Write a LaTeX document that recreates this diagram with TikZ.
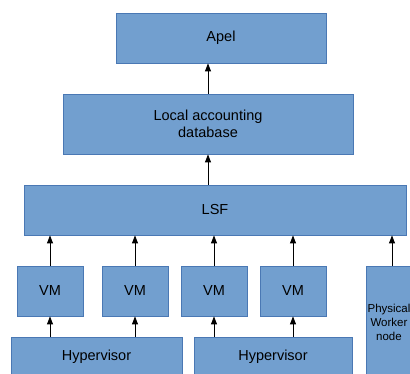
\documentclass[tikz,border=0pt]{standalone}
\usepackage{fontspec}
\setmainfont{Liberation Sans}
\usepackage{xcolor}
\usepackage{tikz}
\usetikzlibrary{arrows.meta,positioning}

\definecolor{boxfill}{HTML}{729FCF}
\definecolor{boxline}{HTML}{4A78B4}

\begin{document}
\begin{tikzpicture}[
    x=1pt, y=-1pt,
    box/.style={draw=boxline, fill=boxfill, line width=0.8pt, align=center, inner sep=0pt, font=\fontsize{14.5}{16.5}\selectfont},
    vm/.style={box, minimum width=66pt, minimum height=50pt},
    hyp/.style={box, minimum height=40pt},
    arr/.style={-{Triangle[width=6pt,length=8pt]}, line width=0.9pt}
]
\useasboundingbox (0,0) rectangle (410,374);
\clip (0,0) rectangle (410,374);
\fill[white] (0,0) rectangle (410,374);

\node[box, minimum width=210pt, minimum height=50pt] (apel) at (221,38) {Apel};
\node[box, minimum width=290pt, minimum height=60pt] (lad) at (208,124) {Local accounting\\database};
\node[box, minimum width=382pt, minimum height=50pt] (lsf) at (215,210) {LSF};
\node[vm] (vm1) at (50,291) {VM};
\node[vm] (vm2) at (135,291) {VM};
\node[vm] (vm3) at (214,291) {VM};
\node[vm] (vm4) at (293,291) {VM};
\node[box, minimum width=46pt, minimum height=112pt, font=\fontsize{11.5}{14}\selectfont] (phys) at (389,322) {Physical\\Worker\\node};
\node[hyp, minimum width=171pt] (hyp1) at (96.5,357) {Hypervisor};
\node[hyp, minimum width=158pt] (hyp2) at (273,357) {Hypervisor};

\draw[arr] (lad.north) -- (lad |- apel.south);
\draw[arr] (lsf.north -| lad) -- (lad.south);
\foreach \v in {vm1,vm2,vm3,vm4}
    \draw[arr] (\v.north) -- (\v |- lsf.south);
\draw[arr] ([xshift=3pt]phys.north) -- ([xshift=3pt]phys.north |- lsf.south);
\foreach \v in {vm1,vm2}
    \draw[arr] (\v |- hyp1.north) -- (\v.south);
\foreach \v in {vm3,vm4}
    \draw[arr] (\v |- hyp2.north) -- (\v.south);
\end{tikzpicture}
\end{document}
